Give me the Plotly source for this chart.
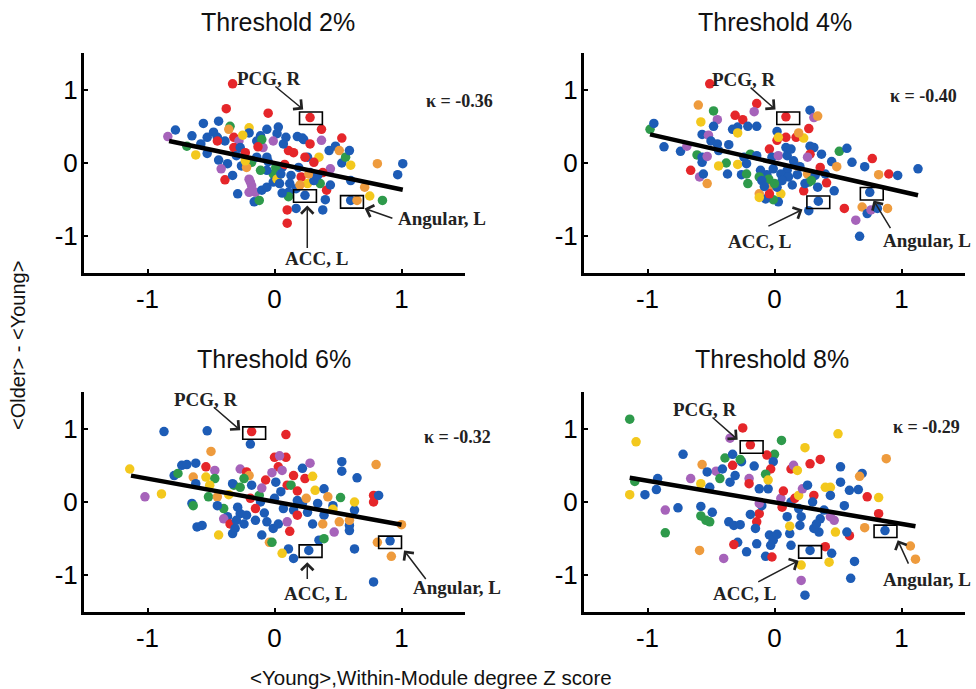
import plotly.graph_objects as go

# ---------------- data ----------------
panel_titles = ["Threshold 2%", "Threshold 4%", "Threshold 6%", "Threshold 8%"]
kappa_labels = ["κ = -0.36", "κ = -0.40", "κ = -0.32", "κ = -0.29"]
tick_vals = [-1, 0, 1]
tick_text = ["-1", "0", "1"]
roi_names = ["PCG, R", "ACC, L", "Angular, L"]

# Threshold 2%
t2_x = [-0.33, -0.38, -0.05, 0.28, 0.37, 0.53, -0.84, -0.78, -0.69, -0.65,
        -0.62, -0.56, -0.53, -0.53, -0.58, -0.44, -0.45, -0.44, -0.37, -0.42,
        -0.39, -0.33, -0.29, -0.35, -0.36, -0.39, -0.32, -0.28, -0.20, -0.20,
        -0.32, -0.27, -0.23, -0.14, -0.11, -0.09, -0.10, -0.06, 0.03, 0.02,
        0.09, -0.01, 0.11, 0.15, 0.18, 0.23, 0.22, 0.28, 0.37, 0.43,
        0.48, 0.51, 0.35, 0.26, 0.24, 0.31, 0.44, 0.53, 0.60, 0.56,
        0.59, 0.81, 1.01, 0.97, 0.71, 0.75, 0.85, 0.60, 0.65, 0.40,
        0.41, 0.38, 0.17, 0.10, 0.10, 0.24, 0.11, 0.11, 0.06, 0.17,
        0.26, 0.36, 0.31, 0.13, 0.21, 0.28, 0.38, 0.60, -0.01, -0.06,
        -0.11, -0.19, -0.15, -0.20, -0.16, -0.12, -0.10, -0.06, -0.01, 0.02,
        0.06, -0.26, -0.18, -0.14, -0.22, -0.23, -0.06, 0.01, 0.05, 0.19,
        0.27, 0.34, -0.18, -0.20, 0.04, -0.45, -0.48, -0.25, -0.13, 0.07,
        0.12, 0.20, 0.44, -0.30, -0.05, 0.08]
t2_y = [1.08, 0.74, 0.68, 0.62, 0.46, 0.34, 0.36, 0.45, 0.23, 0.37,
        0.11, 0.54, 0.35, 0.13, 0.26, 0.57, 0.35, 0.04, -0.01, -0.08,
        -0.23, -0.17, -0.42, 0.50, 0.46, 0.30, 0.35, 0.30, 0.48, 0.41,
        0.21, 0.21, 0.14, 0.30, 0.37, 0.21, 0.32, 0.46, 0.49, 0.40,
        0.35, 0.30, 0.17, 0.14, 0.36, 0.32, 0.34, 0.26, 0.31, 0.17,
        0.23, 0.17, 0.08, 0.08, 0.08, 0.01, -0.08, 0.00, -0.03, 0.08,
        0.17, -0.01, -0.01, -0.16, -0.33, -0.45, -0.51, -0.51, -0.51, -0.50,
        -0.37, -0.64, -0.62, -0.64, -0.82, -0.44, -0.40, -0.46, -0.41, -0.35,
        -0.28, -0.28, -0.24, -0.17, -0.19, -0.13, -0.13, -0.24, -0.15, -0.10,
        -0.10, -0.26, -0.40, -0.40, -0.53, -0.51, -0.37, -0.33, -0.26, -0.22,
        -0.06, -0.04, 0.01, 0.08, -0.06, 0.03, 0.08, -0.06, -0.15, -0.06,
        -0.15, -0.17, -0.31, -0.22, -0.28, 0.30, 0.42, 0.38, 0.22, 0.26,
        -0.28, -0.30, -0.30, 0.10, 0.02, -0.02]
t2_c = ("rrrrrrpbgb" "ybbbbbbbbp" "rbbgobrpyb" "rbrbbpgbbb" "bprrbbbrpb"
        "boybrrpbyg" "bobboygbob" "rbbrrbbgbb" "ygbbrbrbgb" "gpppbgbbby"
        "bbgboybgbb" "obppbrbyrb" "bobbbr")

# Threshold 4%
t4_x = [-0.51, -0.60, -0.48, -0.58, -0.45, -0.48, -0.98, -0.95, -0.87, -0.74,
        -0.69, -0.57, -0.52, -0.50, -0.45, -0.36, -0.33, -0.29, -0.31, -0.25,
        -0.21, -0.14, -0.14, -0.16, 0.09, 0.02, 0.28, 0.31, 0.34, 0.27,
        0.09, 0.17, 0.23, 0.09, 0.28, 0.31, 0.37, 0.28, 0.26, 0.51,
        0.57, 0.45, 0.61, 0.49, 0.77, 0.71, 0.82, 0.90, 0.97, 1.13,
        0.75, 0.69, 0.73, 0.76, 0.81, 0.89, 0.64, 0.67, 0.55, 0.47,
        0.41, 0.345, 0.27, 0.23, 0.34, 0.27, 0.24, 0.26, 0.32, 0.18,
        0.10, 0.05, -0.01, -0.06, -0.11, -0.12, -0.03, 0.05, 0.03, -0.01,
        -0.07, -0.12, -0.12, -0.04, 0.02, -0.045, -0.10, -0.21, -0.26, -0.22,
        -0.29, -0.24, -0.22, -0.19, -0.14, -0.04, -0.02, 0.03, 0.10, 0.02,
        0.03, 0.18, -0.38, -0.37, -0.44, -0.66, -0.59, -0.53, -0.56, -0.57,
        -0.61, -0.57, -0.53, -0.44, -0.29, 0.13, 0.11, 0.06, 0.19, 0.29,
        0.40, 0.14, 0.00, -0.08, 0.20, 0.36, 0.15]
t4_y = [1.08, 0.79, 0.71, 0.56, 0.59, 0.50, 0.46, 0.54, 0.22, 0.16,
        0.23, 0.39, 0.38, 0.30, 0.26, 0.25, 0.46, 0.49, 0.65, 0.59,
        0.50, 0.50, 0.81, 0.70, 0.63, 0.43, 0.72, 0.62, 0.64, 0.47,
        0.35, 0.35, 0.34, 0.21, 0.23, 0.21, 0.12, 0.12, 0.08, 0.16,
        0.20, 0.02, 0.01, -0.05, 0.06, -0.05, -0.16, -0.15, -0.17, -0.08,
        -0.40, -0.60, -0.69, -0.64, -0.62, -0.62, -0.78, -1.00, -0.62, -0.38,
        -0.27, -0.52, -0.65, -0.38, -0.33, -0.26, -0.28, -0.15, -0.17, -0.16,
        -0.10, -0.15, -0.08, -0.16, -0.10, -0.19, -0.31, -0.42, -0.53, -0.50,
        -0.49, -0.42, -0.47, -0.42, -0.33, -0.22, -0.24, -0.28, -0.16, -0.15,
        -0.02, 0.08, -0.01, 0.12, 0.10, 0.19, 0.08, 0.10, 0.10, 0.31,
        0.35, -0.04, 0.00, -0.15, -0.04, -0.10, -0.19, -0.28, -0.15, 0.01,
        0.11, 0.08, 0.09, 0.17, 0.41, 0.19, -0.19, -0.24, 0.41, -0.24,
        -0.15, -0.30, -0.28, -0.32, -0.05, -0.06, 0.03]
t4_c = ("rogypbgbbb" "pbpbbbbbrr" "bbrprbbpor" "rrybbbbrpg" "bbborborbb"
        "bobpbopbrb" "rbbrbgbobb" "bbbbbgoybg" "boyrbgbgbg" "ybbgbrbpbr"
        "yogbyrpobb" "gbpbybbbog" "bbgbbrb")

# Threshold 6%
t6_x = [-0.87, -0.53, -0.18, -0.19, 0.09, -0.50, -1.14, -1.02, -0.89, -0.79,
        -0.76, -0.73, -0.69, -0.62, -0.64, -0.62, -0.65, -0.64, -0.61, -0.57,
        -0.54, -0.54, -0.47, -0.47, -0.51, -0.52, -0.45, -0.44, -0.37, -0.40,
        -0.40, -0.35, -0.33, -0.31, -0.27, -0.29, -0.32, -0.33, -0.27, -0.22,
        -0.20, -0.24, -0.18, -0.27, -0.19, -0.12, -0.07, -0.10, -0.11, -0.15,
        -0.22, -0.24, -0.10, -0.06, -0.01, -0.04, -0.02, 0.00, 0.09, 0.04,
        0.03, 0.06, 0.01, 0.10, 0.13, 0.05, 0.15, 0.22, 0.24, 0.30,
        0.28, 0.18, 0.22, 0.15, 0.18, 0.26, 0.34, 0.32, 0.39, 0.39,
        0.38, 0.30, 0.35, 0.39, 0.27, 0.15, 0.11, 0.06, 0.03, 0.10,
        0.07, 0.46, 0.47, 0.51, 0.52, 0.42, 0.53, 0.53, 0.65, 0.63,
        0.59, 0.59, 0.59, 0.63, 0.63, 0.80, 0.78, 0.78, 0.82, 1.00,
        0.81, 0.91, 0.92, 0.78, 0.18, -0.45, -0.36, -0.08, 0.00, -0.15,
        -0.30, 0.25, 0.46, -0.02, 0.12]
t6_y = [0.96, 0.97, 0.96, 0.79, 0.92, 0.69, 0.45, 0.07, 0.11, 0.36,
        0.39, 0.50, 0.51, 0.53, 0.34, 0.25, -0.02, -0.05, -0.34, -0.32,
        0.48, 0.34, 0.43, 0.32, 0.23, 0.07, 0.07, -0.45, -0.20, -0.09,
        -0.23, -0.30, -0.43, -0.36, -0.16, -0.07, 0.23, 0.25, 0.45, 0.41,
        0.36, 0.32, 0.23, 0.20, 0.05, 0.09, 0.30, 0.19, 0.00, -0.09,
        -0.18, -0.30, -0.45, -0.27, -0.36, -0.55, -0.55, 0.61, 0.61, 0.63,
        0.48, 0.43, 0.27, 0.23, 0.23, 0.14, 0.36, 0.46, 0.32, 0.35,
        0.53, 0.15, -0.02, -0.11, -0.18, -0.14, -0.02, 0.16, 0.18, -0.18,
        -0.30, -0.30, -0.52, -0.50, -0.66, -0.77, -0.64, -0.70, -0.30, -0.27,
        -0.09, -0.05, -0.41, -0.27, 0.06, 0.07, 0.55, 0.42, 0.33, -0.11,
        -0.32, -0.39, -0.25, -0.64, 0.00, 0.51, 0.09, 0.00, 0.09, -0.31,
        -0.55, -0.53, -0.74, -1.09, 0.02, -0.05, 0.10, -0.15, 0.05, -0.25,
        -0.25, 0.05, -0.10, 0.40, -0.40]
t6_c = ("bbrbroypyb" "gbbbobbgbb" "rypgygoybg" "prbbbbgbpr" "ogbgrgrpbr"
        "bbbbbogrrp" "rpbrgbrbry" "prbbrbbybb" "obbgbbbybp" "bbpogobbbb"
        "bbobyorrbo" "obobbbybbb" "boypr")

# Threshold 8%
t8_x = [-1.14, -1.09, -1.14, -1.10, -1.02, -0.93, -0.92, -0.86, -0.86, -0.76,
        -0.72, -0.66, -0.58, -0.57, -0.58, -0.58, -0.54, -0.51, -0.49, -0.59,
        -0.40, -0.51, -0.46, -0.53, -0.43, -0.41, -0.39, -0.33, -0.35, -0.33,
        -0.35, -0.36, -0.32, -0.27, -0.29, -0.32, -0.22, -0.25, -0.26, -0.27,
        -0.31, -0.20, -0.20, -0.16, -0.19, 0.055, 0.00, -0.06, -0.01, -0.03,
        -0.07, -0.05, -0.12, -0.14, -0.15, -0.14, -0.12, -0.19, -0.10, -0.12,
        -0.04, -0.01, 0.02, -0.03, -0.07, -0.02, 0.13, 0.12, 0.12, 0.20,
        0.21, 0.19, 0.06, 0.05, 0.07, 0.13, 0.16, 0.19, 0.13, 0.15,
        0.18, 0.22, 0.26, 0.31, 0.24, 0.28, 0.36, 0.28, 0.21, 0.21,
        0.24, 0.40, 0.45, 0.43, 0.36, 0.35, 0.31, 0.44, 0.47, 0.48,
        0.59, 0.57, 0.63, 0.60, 0.39, 0.40, 0.44, 0.44, 0.52, 0.52,
        0.59, 0.66, 0.69, 0.67, 0.50, 0.88, 0.73, 0.82, 0.82, 0.71,
        0.87, 1.07, 1.11, 0.55, 0.33, 0.10, -0.05, 0.30]
t8_y = [1.13, 0.82, 0.10, 0.28, 0.10, 0.17, 0.32, -0.11, -0.42, -0.08,
        0.65, 0.32, 0.25, 0.51, -0.06, -0.19, -0.25, -0.27, -0.14, -0.66,
        -0.77, 0.20, 0.42, 0.41, 0.32, 0.45, 0.60, 0.65, 0.87, 0.50,
        0.27, -0.27, -0.32, -0.31, -0.55, -0.58, -0.68, 1.01, 0.55, 0.58,
        0.36, 0.32, 0.25, 0.49, 0.78, 0.84, 0.65, 0.64, 0.55, 0.45,
        0.38, 0.18, 0.18, -0.27, -0.36, -0.57, -0.16, -0.17, -0.05, -0.02,
        -0.45, -0.52, -0.44, -0.59, -0.74, -0.75, -0.59, -0.43, -0.33, -0.32,
        -0.20, -0.09, -0.07, 0.05, 0.15, 0.00, 0.05, 0.09, 0.45, 0.50,
        0.43, 0.18, 0.23, 0.09, 0.74, 0.52, 0.58, -0.66, -0.86, -1.07,
        -1.27, -0.61, -0.70, -0.82, -0.23, -0.41, -0.36, -0.20, -0.25, -0.41,
        -0.46, -0.41, -0.81, -1.04, -0.11, 0.20, 0.20, 0.09, 0.27, 0.48,
        0.16, 0.17, 0.39, 0.35, 0.93, 0.59, 0.07, 0.06, -0.16, -0.35,
        -0.39, -0.60, -0.78, -0.05, -0.30, -0.20, 0.30, 0.00]
t8_c = ("gyygbbbpgb" "bpyobgggbo" "pbpbgbgbpr" "bbbbbrbrbg" "bprbrggrbr"
        "gbbrbbrbbp" "bbbbbrbbyb" "bbrprbryrp" "ypbryrrbyp" "brbybbbppy"
        "rbbbbyybbb" "bbboyoryro" "boobbbyb")

# fitted regression lines (end points)
t2_fit_x = [-0.83, 1.01]
t2_fit_y = [0.30, -0.365]
t4_fit_x = [-0.98, 1.13]
t4_fit_y = [0.39, -0.44]
t6_fit_x = [-1.13, 1.00]
t6_fit_y = [0.36, -0.31]
t8_fit_x = [-1.14, 1.11]
t8_fit_y = [0.33, -0.33]

# highlighted regions (PCG, ACC, Angular) – box centres
t2_roi_x = [0.287, 0.24, 0.61]
t2_roi_y = [0.61, -0.45, -0.53]
t4_roi_x = [0.108, 0.345, 0.766]
t4_roi_y = [0.61, -0.536, -0.42]
t6_roi_x = [-0.16, 0.284, 0.91]
t6_roi_y = [0.94, -0.67, -0.55]
t8_roi_x = [-0.18, 0.28, 0.874]
t8_roi_y = [0.75, -0.68, -0.40]

# ---------------- styling / layout positions ----------------
COL = {"b": "#1d5cb6", "r": "#e5262a", "g": "#2e9a4b", "y": "#f3c81d",
       "o": "#ee9b3d", "p": "#a663ba"}

W, H = 976, 689
px_dom = [(84, 465), (584, 965), (84, 465), (584, 965)]
py_dom = [(53, 273), (53, 273), (392, 612), (392, 612)]

# label text centres, arrow tails / heads in data coords
lab_pos = [
    [(-0.04, 1.15), (0.33, -1.30), (1.32, -0.76)],
    [(-0.24, 1.14), (-0.12, -1.07), (1.20, -1.06)],
    [(-0.54, 1.40), (0.32, -1.25), (1.44, -1.16)],
    [(-0.55, 1.26), (-0.24, -1.25), (1.20, -1.05)],
]
arr_tail = [
    [(-0.005, 1.06), (0.258, -1.18), (0.94, -0.76)],
    [(-0.20, 1.045), (-0.06, -0.87), (0.92, -0.91)],
    [(-0.49, 1.31), (0.258, -1.07), (1.20, -1.07)],
    [(-0.50, 1.17), (-0.14, -1.10), (1.06, -0.86)],
]
arr_head = [
    [(0.226, 0.73), (0.258, -0.58), (0.71, -0.62)],
    [(0.008, 0.73), (0.22, -0.635), (0.78, -0.51)],
    [(-0.27, 0.98), (0.258, -0.82), (1.02, -0.66)],
    [(-0.29, 0.85), (0.19, -0.80), (0.97, -0.52)],
]
kappa_pos = [(1.46, 0.85), (1.17, 0.92), (1.44, 0.89), (1.20, 1.02)]
title_px = [(278, 22), (775, 22), (274, 359), (772, 359)]

panels = [
    (t2_x, t2_y, t2_c, t2_fit_x, t2_fit_y, t2_roi_x, t2_roi_y),
    (t4_x, t4_y, t4_c, t4_fit_x, t4_fit_y, t4_roi_x, t4_roi_y),
    (t6_x, t6_y, t6_c, t6_fit_x, t6_fit_y, t6_roi_x, t6_roi_y),
    (t8_x, t8_y, t8_c, t8_fit_x, t8_fit_y, t8_roi_x, t8_roi_y),
]

SANS = "Liberation Sans, Arial, sans-serif"
SERIF = "Liberation Serif, Times New Roman, serif"

fig = go.Figure()
shapes = []
annots = []
layout = {}

for i, (xs, ys, cs, fx, fy, rx, ry) in enumerate(panels):
    assert len(xs) == len(ys) == len(cs), (i, len(xs), len(ys), len(cs))
    n = "" if i == 0 else str(i + 1)
    xa, ya = "x" + n, "y" + n
    fig.add_trace(go.Scatter(
        x=xs, y=ys, mode="markers", xaxis=xa, yaxis=ya,
        marker=dict(size=9.5, color=[COL[c] for c in cs], line=dict(width=0)),
        hoverinfo="skip"))
    fig.add_trace(go.Scatter(
        x=fx, y=fy, mode="lines", xaxis=xa, yaxis=ya,
        line=dict(color="black", width=4.5), hoverinfo="skip"))

    x0, x1 = px_dom[i]
    y0, y1 = py_dom[i]
    axis_common = dict(
        range=[-1.5, 1.5], showgrid=False, zeroline=False, showline=True,
        linecolor="black", linewidth=3, ticks="inside", ticklen=4,
        tickwidth=2, tickcolor="black", tickvals=tick_vals, ticktext=tick_text,
        tickfont=dict(family=SANS, size=26, color="black"), fixedrange=True)
    layout["xaxis" + n] = dict(axis_common, domain=[x0 / W, x1 / W],
                               anchor=ya, ticklabelstandoff=1)
    layout["yaxis" + n] = dict(axis_common, domain=[1 - y1 / H, 1 - y0 / H],
                               anchor=xa, ticklabelstandoff=-2)

    # boxes around highlighted regions
    for cx, cy in zip(rx, ry):
        shapes.append(dict(type="rect", xref=xa, yref=ya,
                           x0=cx - 0.09, x1=cx + 0.09,
                           y0=cy - 0.085, y1=cy + 0.085,
                           line=dict(color="black", width=1.6)))
    # region labels and arrows
    for k in range(3):
        lx, ly = lab_pos[i][k]
        annots.append(dict(x=lx, y=ly, xref=xa, yref=ya,
                           text="<b>" + roi_names[k] + "</b>",
                           showarrow=False, xanchor="center", yanchor="middle",
                           font=dict(family=SERIF, size=19, color="#222")))
        tx, ty = arr_tail[i][k]
        hx, hy = arr_head[i][k]
        annots.append(dict(x=hx, y=hy, ax=tx, ay=ty, xref=xa, yref=ya,
                           axref=xa, ayref=ya, text="", showarrow=True,
                           arrowhead=4, arrowsize=1.6, arrowwidth=1.5,
                           arrowcolor="#222", standoff=0, startstandoff=0))
    kx, ky = kappa_pos[i]
    annots.append(dict(x=kx, y=ky, xref=xa, yref=ya,
                       text="<b>" + kappa_labels[i] + "</b>", showarrow=False,
                       xanchor="center", yanchor="middle",
                       font=dict(family=SERIF, size=18, color="#222")))
    tpx, tpy = title_px[i]
    annots.append(dict(x=tpx / W, y=1 - tpy / H, xref="paper", yref="paper",
                       text=panel_titles[i], showarrow=False,
                       xanchor="center", yanchor="middle",
                       font=dict(family=SANS, size=25, color="#111")))

annots.append(dict(x=18 / W, y=1 - 346 / H, xref="paper", yref="paper",
                   text="&lt;Older&gt; - &lt;Young&gt;", textangle=-90,
                   showarrow=False, xanchor="center", yanchor="middle",
                   font=dict(family=SANS, size=20, color="#111")))
annots.append(dict(x=431 / W, y=1 - 677 / H, xref="paper", yref="paper",
                   text="&lt;Young&gt;,Within-Module degree Z score",
                   showarrow=False, xanchor="center", yanchor="middle",
                   font=dict(family=SANS, size=20.5, color="#111")))

fig.update_layout(
    width=W, height=H, margin=dict(l=0, r=0, t=0, b=0),
    paper_bgcolor="white", plot_bgcolor="white", showlegend=False,
    shapes=shapes, annotations=annots, **layout)

fig.write_html("out.html", include_plotlyjs=True,
               config={"displayModeBar": False})
